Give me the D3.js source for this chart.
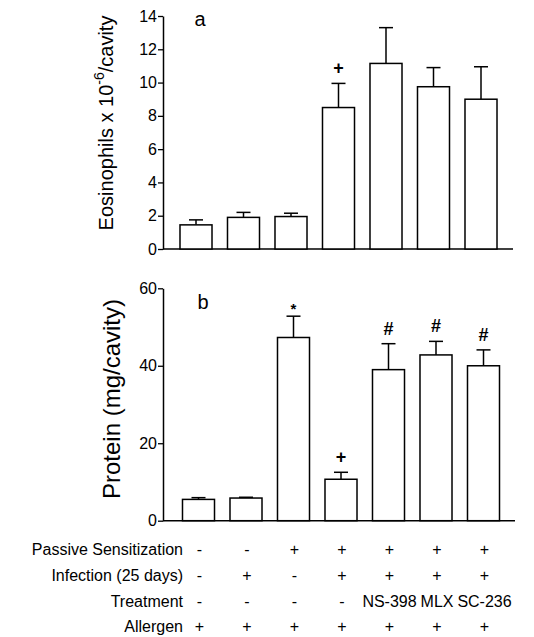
<!DOCTYPE html>
<html>
<head>
<meta charset="utf-8">
<script src="https://cdn.jsdelivr.net/npm/d3@7"></script>
<style>
  body { margin: 0; background: #fff; }
  svg { display: block; }
  text { font-family: Arial, "Liberation Sans", sans-serif; fill: #000; }
</style>
</head>
<body>
<script>
'use strict';

const groups = ['g1', 'g2', 'g3', 'g4', 'g5', 'g6', 'g7'];

// panel a: eosinophils x 10^-6 / cavity
const eosMean = [1.45, 1.9, 1.95, 8.5, 11.15, 9.75, 9.0];
const eosErr = [0.3, 0.3, 0.2, 1.45, 2.15, 1.15, 1.95];
const eosMarks = ['', '', '', '+', '', '', ''];
const eosTicks = [0, 2, 4, 6, 8, 10, 12, 14];

// panel b: protein (mg/cavity)
const protMean = [5.5, 5.85, 47.3, 10.7, 39.0, 42.8, 40.0];
const protErr = [0.45, 0.2, 5.5, 1.8, 6.7, 3.5, 4.1];
const protMarks = ['', '', '*', '+', '#', '#', '#'];
const protTicks = [0, 20, 40, 60];

// conditions table under the chart
const rowLabels = ['Passive Sensitization', 'Infection (25 days)', 'Treatment', 'Allergen'];
const sensitization = ['-', '-', '+', '+', '+', '+', '+'];
const infection = ['-', '+', '-', '+', '+', '+', '+'];
const treatment = ['-', '-', '-', '-', 'NS-398', 'MLX', 'SC-236'];
const allergen = ['+', '+', '+', '+', '+', '+', '+'];

const W = 534, H = 637;
const svg = d3.select('body').append('svg')
    .attr('width', W)
    .attr('height', H);

function panel(opt) {
    const x = d3.scaleBand()
        .domain(groups)
        .range(opt.xRange)
        .paddingInner(0.326)
        .paddingOuter(0.163);
    const y = d3.scaleLinear()
        .domain([0, opt.max])
        .range(opt.yRange);

    const g = svg.append('g');

    // y axis
    const yAxis = d3.axisLeft(y)
        .tickValues(opt.ticks)
        .tickSize(5)
        .tickPadding(1)
        .tickSizeOuter(0);
    const ya = g.append('g')
        .attr('transform', `translate(${opt.axisX},0)`)
        .call(yAxis);
    ya.select('.domain').attr('stroke', '#000').attr('stroke-width', 1.5);
    ya.selectAll('.tick line').attr('stroke', '#000').attr('stroke-width', 1.3);
    ya.selectAll('.tick text')
        .style('font-size', '16px')
        .style('font-family', 'Arial, "Liberation Sans", sans-serif');

    // x baseline
    g.append('line')
        .attr('x1', opt.axisX).attr('x2', opt.axisEnd)
        .attr('y1', y(0)).attr('y2', y(0))
        .attr('stroke', '#000').attr('stroke-width', 1.5);

    const data = groups.map((k, i) => ({k, m: opt.mean[i], e: opt.err[i], s: opt.marks[i]}));

    // error bars (drawn first so bar outline sits on top)
    const eb = g.append('g').selectAll('g').data(data).enter().append('g');
    eb.append('line')
        .attr('x1', d => x(d.k) + x.bandwidth() / 2)
        .attr('x2', d => x(d.k) + x.bandwidth() / 2)
        .attr('y1', d => y(d.m))
        .attr('y2', d => y(d.m + d.e))
        .attr('stroke', '#000').attr('stroke-width', 1.5);
    eb.append('line')
        .attr('x1', d => x(d.k) + x.bandwidth() / 2 - 7)
        .attr('x2', d => x(d.k) + x.bandwidth() / 2 + 7)
        .attr('y1', d => y(d.m + d.e))
        .attr('y2', d => y(d.m + d.e))
        .attr('stroke', '#000').attr('stroke-width', 1.5);

    g.append('g').selectAll('rect').data(data).enter().append('rect')
        .attr('x', d => x(d.k))
        .attr('y', d => y(d.m))
        .attr('width', x.bandwidth())
        .attr('height', d => y(0) - y(d.m))
        .attr('fill', '#fff')
        .attr('stroke', '#000')
        .attr('stroke-width', 1.5);

    // significance marks
    g.append('g').selectAll('text').data(data.filter(d => d.s)).enter().append('text')
        .attr('x', d => x(d.k) + x.bandwidth() / 2)
        .attr('y', d => y(d.m + d.e) - (d.s === '*' ? 8 : 15))
        .attr('text-anchor', 'middle')
        .attr('dominant-baseline', 'central')
        .style('font-size', d => d.s === '*' ? '15px' : '18px')
        .style('font-weight', 'bold')
        .text(d => d.s);

    // panel letter
    g.append('text')
        .attr('x', opt.letterPos[0]).attr('y', opt.letterPos[1])
        .attr('text-anchor', 'middle')
        .attr('dominant-baseline', 'central')
        .style('font-size', '20px')
        .text(opt.letter);

    // y title
    const t = g.append('text')
        .attr('transform', `translate(${opt.titlePos[0]},${opt.titlePos[1]}) rotate(-90)`)
        .attr('text-anchor', 'middle')
        .attr('dominant-baseline', 'central')
        .style('font-size', opt.titleSize);
    opt.title(t);

    return x;
}

panel({
    xRange: [172.25, 504.75], yRange: [249, 16], max: 14,
    axisX: 163, axisEnd: 513,
    ticks: eosTicks, mean: eosMean, err: eosErr, marks: eosMarks,
    letter: 'a', letterPos: [200, 19],
    titlePos: [106, 123], titleSize: '20px',
    title: t => {
        t.append('tspan').text('Eosinophils x 10');
        t.append('tspan').attr('dy', -7).style('font-size', '14px').text('-6');
        t.append('tspan').attr('dy', 7).text('/cavity');
    }
});

const xb = panel({
    xRange: [174.75, 507.25], yRange: [520.7, 288.3], max: 60,
    axisX: 163, axisEnd: 515,
    ticks: protTicks, mean: protMean, err: protErr, marks: protMarks,
    letter: 'b', letterPos: [203, 302],
    titlePos: [111, 399], titleSize: '24px',
    title: t => t.text('Protein (mg/cavity)')
});

// conditions table
const rows = [sensitization, infection, treatment, allergen];
const rowY = [549, 575, 601, 626];
const table = svg.append('g').style('font-size', '16px');

table.selectAll('text.lab').data(rowLabels).enter().append('text')
    .attr('class', 'lab')
    .attr('x', 183)
    .attr('y', (d, i) => rowY[i])
    .attr('text-anchor', 'end')
    .attr('dominant-baseline', 'central')
    .text(d => d);

rows.forEach((vals, r) => {
    table.append('g').selectAll('text').data(vals).enter().append('text')
        .attr('x', (d, i) => xb(groups[i]) + xb.bandwidth() / 2 + 1)
        .attr('y', rowY[r])
        .attr('text-anchor', 'middle')
        .attr('dominant-baseline', 'central')
        .text(d => d);
});
</script>
</body>
</html>
